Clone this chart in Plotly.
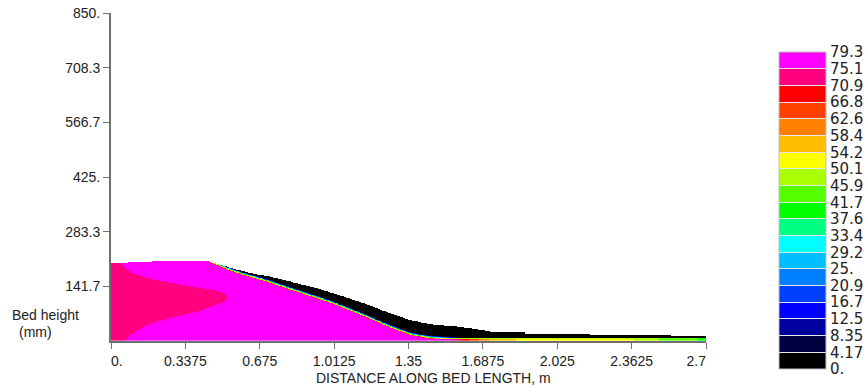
import numpy as np
import plotly.graph_objects as go

# ---------------- values ----------------
# bed top surface (distance m, height mm)
top_x = [0.00, 0.10, 0.28, 0.38, 0.44, 0.48, 0.53, 0.55, 0.63, 0.70, 0.78, 0.85, 0.93, 1.00,
         1.08, 1.15, 1.23, 1.29, 1.36, 1.45, 1.52, 1.60, 1.67, 1.72, 1.721, 1.88, 1.881,
         2.17, 2.171, 2.54, 2.541, 2.70]
top_h = [202, 204, 207, 208, 206, 200, 192, 188, 176, 169, 159, 148, 137, 125,
         110, 97, 79, 67, 53, 43, 39, 35, 29, 24, 22, 22, 17,
         17, 15, 15, 11, 11]

# drying front: height below which temperature rises from 0 (mm)
front_x = [0.00, 0.40, 0.44, 0.48, 0.53, 0.60, 0.70, 0.83, 1.00, 1.14, 1.27, 1.36, 1.45, 1.57, 1.65, 2.70]
front_h = [300, 222, 214, 204, 192, 178, 162, 137, 105, 73, 41, 22, 13, 9, 7, 7]

# thickness of the colour transition at the front (mm)
width_x = [0.00, 1.50, 1.65, 2.70]
width_mm = [9.0, 9.0, 2.5, 2.5]

# highest value reached near the bed bottom in the tail
peak_x = [0.00, 1.50, 1.58, 1.65, 1.72, 1.80, 1.95, 2.35, 2.45, 2.55, 2.70]
peak_t = [79.3, 79.3, 72.0, 64.0, 58.0, 55.0, 52.0, 51.0, 47.0, 44.0, 41.0]

# cooler core (70.9-75.1 band): right edge of core vs height
core_h = [0, 10, 26, 40, 57, 78, 100, 107, 114, 121, 130, 143, 161, 175, 190, 202, 215]
core_x = [0.065, 0.078, 0.117, 0.162, 0.254, 0.404, 0.509, 0.526, 0.529, 0.52, 0.48, 0.343,
          0.177, 0.10, 0.064, 0.045, 0.03]
t_core = 73.0
t_bed = 77.5

# colour bar levels
levels = [0.0, 4.17, 8.35, 12.5, 16.7, 20.9, 25.0, 29.2, 33.4, 37.6, 41.7, 45.9, 50.1,
          54.2, 58.4, 62.6, 66.8, 70.9, 75.1, 79.3]
level_labels = ["0.", "4.17", "8.35", "12.5", "16.7", "20.9", "25.", "29.2", "33.4", "37.6",
                "41.7", "45.9", "50.1", "54.2", "58.4", "62.6", "66.8", "70.9", "75.1", "79.3"]
band_colors = ["#000000", "#000040", "#00009F", "#0000FF", "#0040FF", "#0080FF", "#00BFFF",
               "#00FFFF", "#00FF80", "#00FF00", "#55FF00", "#AAFF00", "#FFFF00", "#FFBF00",
               "#FF8000", "#FF4000", "#FF0000", "#FF0080", "#FF00FF"]

x_ticks = [0, 0.3375, 0.675, 1.0125, 1.35, 1.6875, 2.025, 2.3625, 2.7]
x_tick_labels = ["0.", "0.3375", "0.675", "1.0125", "1.35", "1.6875", "2.025", "2.3625", "2.7"]
y_ticks = [141.7, 283.3, 425.0, 566.7, 708.3, 850.0]
y_tick_labels = ["141.7", "283.3", "425.", "566.7", "708.3", "850."]

# ---------------- build the field grid ----------------
nb = len(band_colors)
vmax = levels[-1]
step = vmax / nb
xs = np.arange(0.002, 2.7, 0.004)
hs = np.arange(0.5, 216.0, 1.0)
X, H = np.meshgrid(xs, hs)
top = np.interp(X, top_x, top_h)
front = np.interp(X, front_x, front_h)
wid = np.interp(X, width_x, width_mm)
peak = np.interp(X, peak_x, peak_t)
cx = np.interp(H, core_h, core_x)
interior = np.where(X < cx, t_core, t_bed)
ramp = np.clip(vmax * (front - H) / wid, 0, None)
T = np.minimum(np.minimum(interior, peak), ramp)
idx = np.clip(np.floor(T / step), 0, nb - 1)
Tq = np.round((idx + 0.5) * step, 3)
Z = np.where(H > top, np.nan, Tq)
Zlist = [[None if np.isnan(v) else float(v) for v in row] for row in Z]

# stepped colour scale with thin light separators
sep = 0.0016
sep_col = "#e8e8e8"
cs = []
for i, c in enumerate(band_colors):
    lo = i / nb
    hi = (i + 1) / nb
    lo_e = lo + sep if i > 0 else lo
    hi_e = hi - sep if i < nb - 1 else hi
    if i > 0:
        cs.append([lo_e, sep_col])
    cs.append([lo_e, c])
    cs.append([hi_e, c])
    if i < nb - 1:
        cs.append([hi_e, sep_col])

font_fam = "Liberation Sans, Arial, sans-serif"
W, Hh = 868, 388
ml, mr, mt, mb = 111, 162, 13, 47
pw = W - ml - mr
ph = Hh - mt - mb

fig = go.Figure()
fig.add_trace(go.Heatmap(
    x=xs, y=hs, z=Zlist, zmin=0, zmax=vmax, colorscale=cs, zsmooth=False,
    hoverinfo="skip",
    colorbar=dict(
        thickness=47, thicknessmode="pixels",
        len=317, lenmode="pixels",
        x=(779 - ml) / pw, xanchor="left", xpad=0,
        y=(Hh - mb - 210.5) / ph, yanchor="middle", ypad=0,
        outlinewidth=1, outlinecolor="#c0c0c0",
        tickvals=levels, ticktext=level_labels, ticks="",
        tickfont=dict(family="DejaVu Sans, sans-serif", size=15, color="#222222"),
    ),
))

pad = "\u00a0"
xt = list(x_tick_labels)
xt[0] = pad * 3 + xt[0]
xt[-1] = xt[-1] + pad * 5

axis_col = "#707070"
fig.update_layout(
    width=W, height=Hh,
    margin=dict(l=ml, r=mr, t=mt, b=mb, autoexpand=False),
    plot_bgcolor="white", paper_bgcolor="white",
    font=dict(family=font_fam, size=14, color="#222222"),
    xaxis=dict(range=[0, 2.7], tickvals=x_ticks, ticktext=xt, ticks="outside", ticklen=6,
               tickcolor=axis_col, tickwidth=1, showline=True, linecolor=axis_col, linewidth=2,
               showgrid=False, zeroline=False, tickfont=dict(size=14)),
    yaxis=dict(range=[0, 850], tickvals=y_ticks, ticktext=y_tick_labels, ticks="outside",
               ticklen=6, tickcolor=axis_col, tickwidth=1, showline=True, linecolor=axis_col,
               linewidth=2, showgrid=False, zeroline=False, tickfont=dict(size=14)),
    annotations=[
        dict(text="DISTANCE ALONG BED LENGTH, m", xref="paper", yref="paper",
             x=(433 - ml) / pw, y=(Hh - mb - 378) / ph, xanchor="center", yanchor="middle",
             showarrow=False, font=dict(size=14)),
        dict(text="Bed height", xref="paper", yref="paper",
             x=(10 - ml) / pw, y=(Hh - mb - 315) / ph, xanchor="left", yanchor="middle",
             showarrow=False, font=dict(size=14)),
        dict(text="(mm)", xref="paper", yref="paper",
             x=(17 - ml) / pw, y=(Hh - mb - 332) / ph, xanchor="left", yanchor="middle",
             showarrow=False, font=dict(size=14)),
    ],
)

fig.write_html("out.html")
